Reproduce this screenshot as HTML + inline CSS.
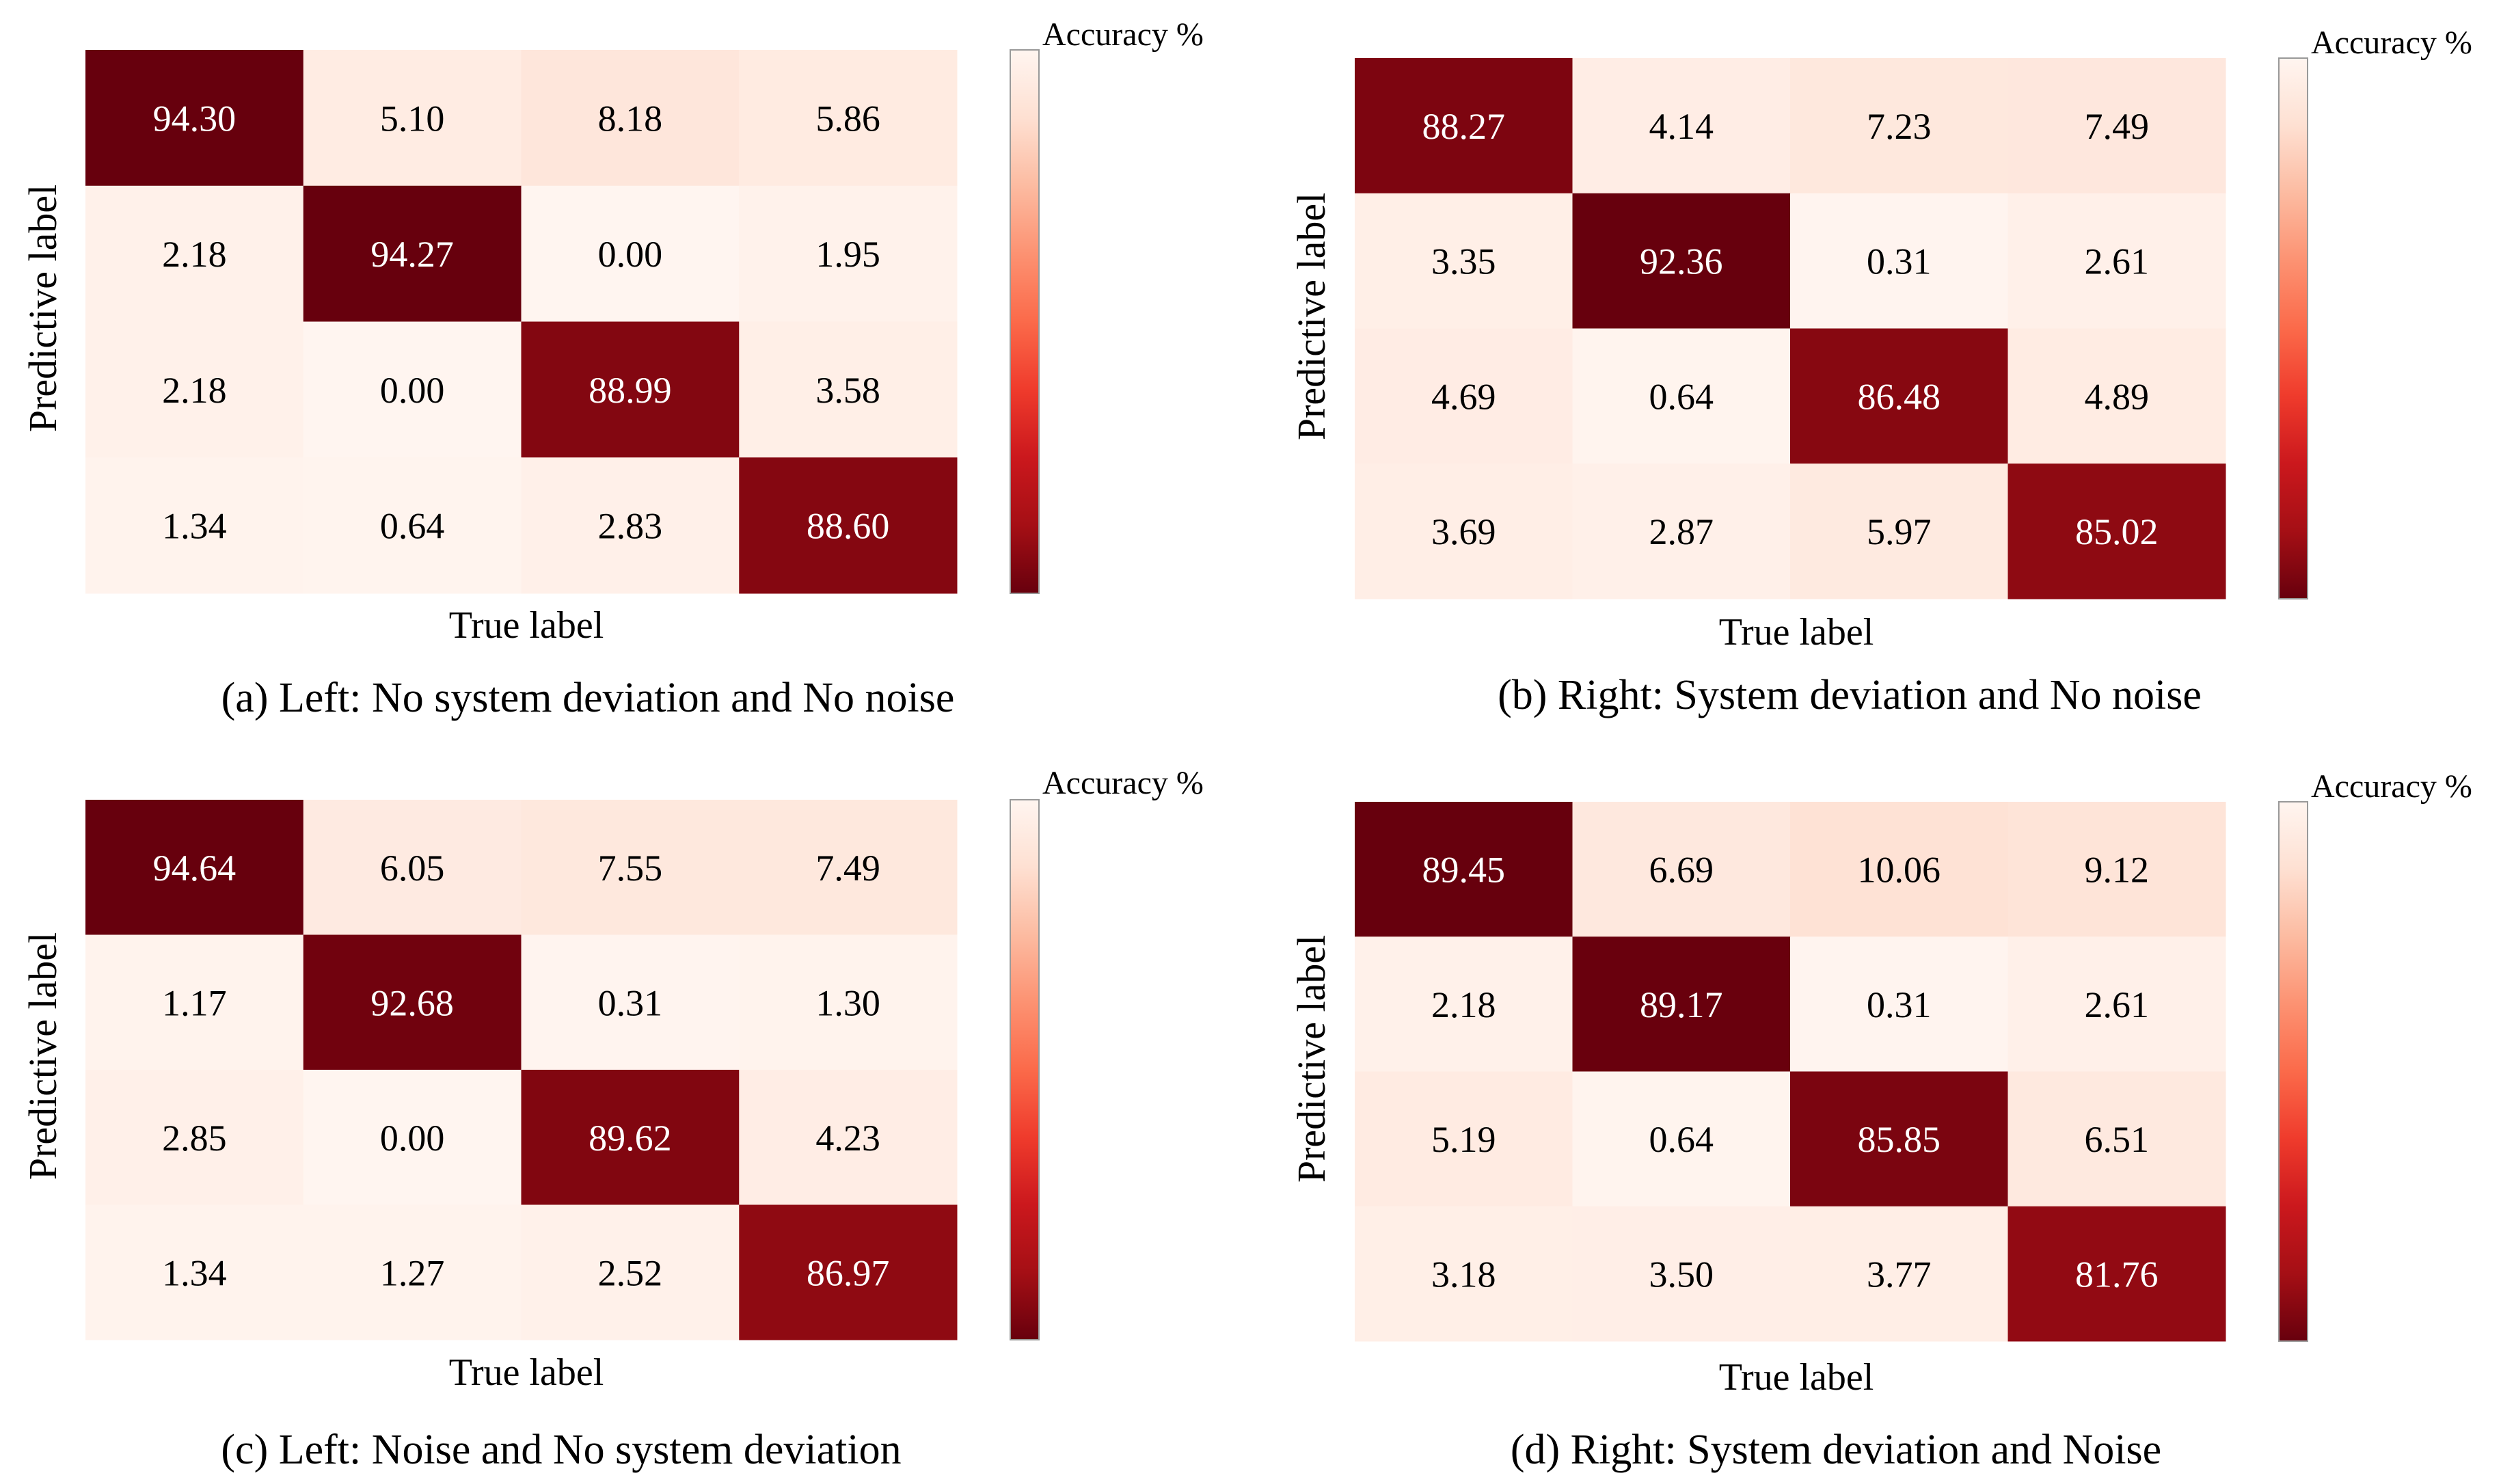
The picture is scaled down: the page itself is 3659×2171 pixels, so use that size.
<!DOCTYPE html>
<html><head><meta charset="utf-8">
<style>html,body{margin:0;padding:0;background:#fff;font-family:"Liberation Serif","Times New Roman",Times,"DejaVu Serif",serif}svg{display:block}svg text{font-family:"Liberation Serif","Times New Roman",Times,"DejaVu Serif",serif}</style>
</head><body>
<svg id="fig" width="3659" height="2171" viewBox="0 0 3659 2171" xmlns="http://www.w3.org/2000/svg">
<defs>
<linearGradient id="cbar" x1="0" y1="1" x2="0" y2="0">
<stop offset="0" stop-color="#67000d"/><stop offset="0.125" stop-color="#a50f15"/><stop offset="0.25" stop-color="#cb181d"/><stop offset="0.375" stop-color="#ef3b2c"/><stop offset="0.5" stop-color="#fb6a4a"/><stop offset="0.625" stop-color="#fc9272"/><stop offset="0.75" stop-color="#fcbba1"/><stop offset="0.875" stop-color="#fee0d2"/><stop offset="1" stop-color="#fff5f0"/>
</linearGradient>
</defs>
</svg>
<script>
const matA = [[94.30,5.10,8.18,5.86],[2.18,94.27,0.00,1.95],[2.18,0.00,88.99,3.58],[1.34,0.64,2.83,88.60]];
const matB = [[88.27,4.14,7.23,7.49],[3.35,92.36,0.31,2.61],[4.69,0.64,86.48,4.89],[3.69,2.87,5.97,85.02]];
const matC = [[94.64,6.05,7.55,7.49],[1.17,92.68,0.31,1.30],[2.85,0.00,89.62,4.23],[1.34,1.27,2.52,86.97]];
const matD = [[89.45,6.69,10.06,9.12],[2.18,89.17,0.31,2.61],[5.19,0.64,85.85,6.51],[3.18,3.50,3.77,81.76]];
const captions = ["(a) Left: No system deviation and No noise","(b) Right: System deviation and No noise","(c) Left: Noise and No system deviation","(d) Right: System deviation and Noise"];

const reds = [[255,245,240],[254,224,210],[252,187,161],[252,146,114],[251,106,74],[239,59,44],[203,24,29],[165,15,21],[103,0,13]];
function cmap(t){t=Math.max(0,Math.min(1,t));const p=t*8,i=Math.min(7,Math.floor(p)),f=p-i;const a=reds[i],b=reds[i+1];
return 'rgb('+a.map((v,k)=>Math.round(v+(b[k]-v)*f)).join(',')+')';}

const svg=document.getElementById('fig');const NS='http://www.w3.org/2000/svg';
function el(tag,attrs,txt){const e=document.createElementNS(NS,tag);for(const k in attrs)e.setAttribute(k,attrs[k]);if(txt!==undefined){e.textContent=txt;e.style.fontFamily='"Liberation Serif","Times New Roman",Times,serif';}svg.appendChild(e);return e;}

const panels=[
 {m:matA,x0:125,x1:1400,y0:73,y1:868,cb:1478,accY:66,tlX:770,tlY:933,capX:860,capY:1041,plX:62,plY:451},
 {m:matB,x0:1982,x1:3256,y0:85,y1:876,cb:3334,accY:78,tlX:2628,tlY:943,capX:2706,capY:1037,plX:1918,plY:463},
 {m:matC,x0:125,x1:1400,y0:1170,y1:1960,cb:1478,accY:1161,tlX:770,tlY:2026,capX:821,capY:2141,plX:62,plY:1545},
 {m:matD,x0:1982,x1:3256,y0:1173,y1:1962,cb:3334,accY:1166,tlX:2628,tlY:2033,capX:2686,capY:2141,plX:1918,plY:1549}
];
panels.forEach((p,pi)=>{
 const m=p.m;let mx=0;m.forEach(r=>r.forEach(v=>{if(v>mx)mx=v;}));
 const cw=(p.x1-p.x0)/4,ch=(p.y1-p.y0)/4;
 m.forEach((row,r)=>row.forEach((v,c)=>{
  const t=v/mx;
  const rc=el('rect',{x:p.x0+c*cw,y:p.y0+r*ch,width:cw+0.5,height:ch+0.5,fill:cmap(t)});
  
  
  const tx=el('text',{x:p.x0+(c+0.5)*cw,y:p.y0+(r+0.5)*ch+19,'text-anchor':'middle','font-size':54,fill:t>0.5?'#fff':'#000'},v.toFixed(2));
  
  
 }));
 const cb=el('rect',{x:p.cb,y:p.y0,width:42,height:p.y1-p.y0,fill:'url(#cbar)',stroke:'#999','stroke-width':2});
 
 
 const at=el('text',{x:p.cb+47,y:p.accY,'font-size':48,fill:'#000'},'Accuracy %');
 
 
 const tl=el('text',{x:p.tlX,y:p.tlY,'text-anchor':'middle','font-size':56,fill:'#000'},'True label');
 
 
 const pl=el('text',{x:0,y:0,'text-anchor':'middle','font-size':58,fill:'#000',transform:'translate('+(p.plX+20)+','+p.plY+') rotate(-90)'},'Predictive label');
 
 
 const cp=el('text',{x:p.capX,y:p.capY,'text-anchor':'middle','font-size':62,fill:'#000'},captions[pi]);
 
 
});
</script>
</body></html>
